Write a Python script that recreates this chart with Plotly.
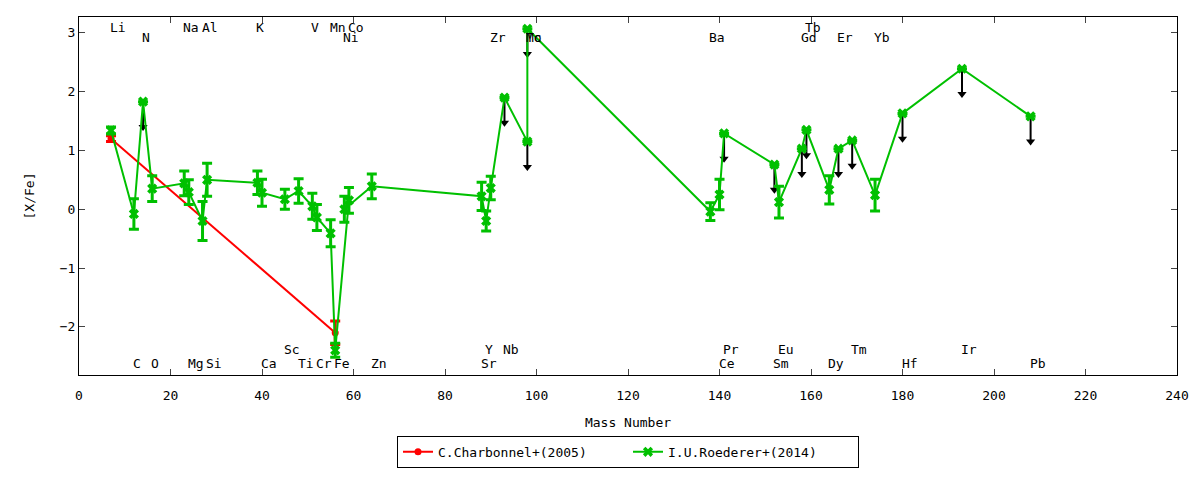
import plotly.graph_objects as go

# C.Charbonnel+(2005)
red_mass = [7, 56]
red_val = [1.20, -2.10]
red_err = [0.05, 0.20]

# I.U.Roederer+(2014)
elem = ["Li", "C", "N", "O", "Na", "Mg", "Al", "Si", "K", "Ca", "Sc", "Ti", "V", "Cr",
        "Mn", "Fe", "Co", "Ni", "Zn", "Sr", "Y", "Zr", "Nb", "Mo", "Tc", "Ba", "Ce", "Pr",
        "Sm", "Eu", "Gd", "Tb", "Dy", "Er", "Tm", "Yb", "Hf", "Ir", "Pb"]
mass = [7, 12, 14, 16, 23, 24, 27, 28, 39, 40, 45, 48, 51, 52,
        55, 56, 59, 58, 64, 88, 89, 90, 93, 98, 98, 138, 140, 141,
        152, 153, 158, 159, 164, 166, 169, 174, 180, 193, 208]
val = [1.34, -0.08, 1.83, 0.35, 0.44, 0.29, -0.20, 0.50, 0.45, 0.28, 0.17, 0.31, 0.05, -0.14,
       -0.41, -2.40, 0.15, 0.00, 0.39, 0.22, -0.20, 0.36, 1.90, 1.15, 3.07, -0.04, 0.25, 1.29,
       0.76, 0.12, 1.03, 1.35, 0.33, 1.03, 1.17, 0.24, 1.63, 2.39, 1.58]
err = [0.06, 0.26, 0, 0.22, 0.21, 0.21, 0.33, 0.28, 0.20, 0.23, 0.17, 0.21, 0.22, 0.22,
       0.23, 0.12, 0.22, 0.22, 0.21, 0.24, 0.17, 0.20, 0, 0, 0, 0.15, 0.26, 0,
       0, 0.27, 0, 0, 0.24, 0, 0, 0.27, 0, 0, 0]
upper = [0, 0, 1, 0, 0, 0, 0, 0, 0, 0, 0, 0, 0, 0,
         0, 0, 0, 0, 0, 0, 0, 0, 1, 1, 1, 0, 0, 1,
         1, 0, 1, 1, 0, 1, 1, 0, 1, 1, 1]
# label row: 0 top, 1 second, 2 lower-upper, 3 bottom
label_row = [0, 3, 1, 3, 0, 3, 0, 3, 0, 3, 2, 3, 0, 3,
             0, 3, 0, 1, 3, 3, 2, 1, 2, 1, 1, 1, 3, 2,
             3, 2, 1, 0, 3, 1, 2, 1, 3, 2, 3]
row_y = [3.09, 2.92, -2.38, -2.62]

RED = "#ff0000"
GREEN = "#00c000"
ARROW_LEN = 0.5
FONT = "DejaVu Sans Mono"

fig = go.Figure()

# upper limit arrows
ax_x, ax_y, hx, hy = [], [], [], []
for m, v, u in zip(mass, val, upper):
    if u:
        ax_x += [m, m, None]
        ax_y += [v, v - ARROW_LEN + 0.07, None]
        hx.append(m)
        hy.append(v - ARROW_LEN + 0.07)
fig.add_trace(go.Scatter(x=ax_x, y=ax_y, mode="lines", line=dict(color="black", width=2),
                         showlegend=False, hoverinfo="skip"))
fig.add_trace(go.Scatter(x=hx, y=hy, mode="markers",
                         marker=dict(symbol="triangle-down", size=8, color="black"),
                         showlegend=False, hoverinfo="skip"))

fig.add_trace(go.Scatter(x=red_mass, y=red_val, mode="lines+markers", name="C.Charbonnel+(2005)",
                         line=dict(color=RED, width=2),
                         marker=dict(symbol="circle", size=7, color=RED),
                         error_y=dict(type="data", array=red_err, color=RED, thickness=3, width=5)))

fig.add_trace(go.Scatter(x=mass, y=val, mode="lines+markers", name="I.U.Roederer+(2014)",
                         line=dict(color=GREEN, width=2),
                         marker=dict(symbol="x", size=9, color=GREEN),
                         error_y=dict(type="data", array=err, color=GREEN, thickness=3, width=5)))

for e, m, r in zip(elem, mass, label_row):
    fig.add_annotation(x=m, y=row_y[r], text=e, showarrow=False, xanchor="left", xshift=-3,
                       yanchor="middle", font=dict(family=FONT, size=13, color="black"))

fig.update_xaxes(range=[0, 240], tick0=0, dtick=20, ticks="inside", ticklen=6,
                 showline=True, linecolor="black", mirror="ticks", showgrid=False, zeroline=False,
                 automargin=False, tickfont=dict(size=13), ticklabelstandoff=8,
                 title=dict(text="Mass Number", standoff=16, font=dict(size=13)))
fig.update_yaxes(range=[-2.82, 3.27], tick0=-2, dtick=1, ticks="inside", ticklen=6,
                 showline=True, linecolor="black", mirror="ticks", showgrid=False, zeroline=False,
                 automargin=False, tickfont=dict(size=13),
                 title=dict(text="[X/Fe]", standoff=22, font=dict(size=13)))

# page adds 8px body margin on each side
fig.update_layout(
    width=1184, height=464,
    margin=dict(l=71, r=15, t=9, b=97, autoexpand=False),
    plot_bgcolor="white", paper_bgcolor="white",
    font=dict(family=FONT, size=13, color="black"),
    legend=dict(orientation="h", x=0.5, xanchor="center", y=-0.17, yanchor="top",
                bordercolor="black", borderwidth=1, bgcolor="white", entrywidth=185),
)

fig.write_html("out.html")
